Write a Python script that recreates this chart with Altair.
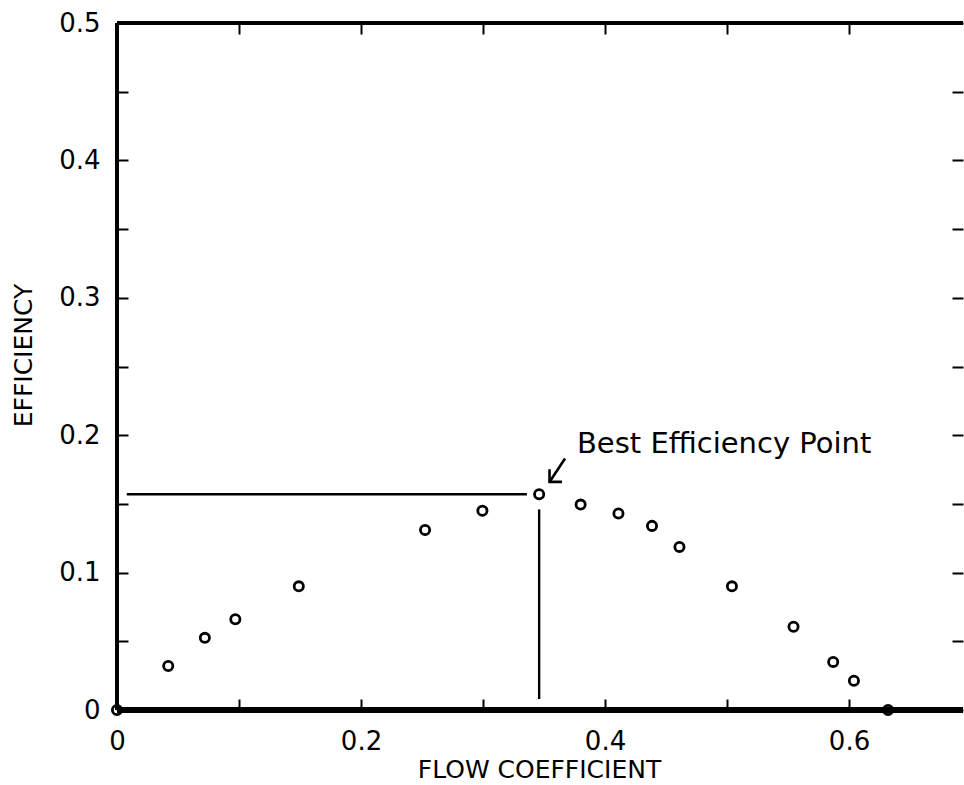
import altair as alt
import pandas as pd

# Measured pump performance: flow coefficient vs. efficiency
flow = [0.0, 0.042, 0.072, 0.097, 0.149, 0.2525, 0.2995, 0.346, 0.380,
        0.411, 0.4385, 0.461, 0.504, 0.5545, 0.587, 0.604, 0.632]
efficiency = [0.0, 0.032, 0.0525, 0.066, 0.090, 0.131, 0.145, 0.157, 0.1495,
              0.143, 0.134, 0.1187, 0.090, 0.0606, 0.035, 0.0213, 0.0]

# Best efficiency point and its guide lines
bep_flow = 0.346
bep_eff = 0.157
guide_x = [0.008, bep_flow]
guide_x2 = [0.336, bep_flow]
guide_y = [bep_eff, 0.146]
guide_y2 = [bep_eff, 0.008]

# Annotation arrow (shaft + open head)
arrow_part = ["shaft", "shaft", "head", "head", "head"]
arrow_order = [0, 1, 0, 1, 2]
arrow_x = [0.3672, 0.3545, 0.3545, 0.3545, 0.3647]
arrow_y = [0.1831, 0.1660, 0.1752, 0.1660, 0.1660]
label_text = ["Best Efficiency Point"]
label_x = [0.377]
label_y = [0.1868]

# Axis ticks
x_ticks = [0.0, 0.1, 0.2, 0.3, 0.4, 0.5, 0.6]
y_ticks = [0.0, 0.05, 0.1, 0.15, 0.2, 0.25, 0.3, 0.35, 0.4, 0.45, 0.5]
x_domain = [0.0, 0.6934]
y_domain = [0.0, 0.5]

FONT = "DejaVu Sans"
TICK = 11

points_df = pd.DataFrame({"flow": flow, "eff": efficiency})
guides_df = pd.DataFrame({"x": guide_x, "x2": guide_x2, "y": guide_y, "y2": guide_y2})
arrow_df = pd.DataFrame({"part": arrow_part, "order": arrow_order,
                         "x": arrow_x, "y": arrow_y})
label_df = pd.DataFrame({"text": label_text, "x": label_x, "y": label_y})

xscale = alt.Scale(domain=x_domain, nice=False, zero=False)
yscale = alt.Scale(domain=y_domain, nice=False, zero=False)

x_label_expr = ("datum.value == 0 ? '0' : "
                "(round(datum.value * 10) % 2 == 0 ? format(datum.value, '.1f') : '')")
y_label_expr = ("datum.value == 0 ? '0' : "
                "(round(datum.value * 100) % 10 == 0 ? format(datum.value, '.1f') : '')")

common_axis = dict(domain=False, grid=False, tickSize=TICK, offset=-TICK,
                   tickColor="black", tickWidth=2, labelFont=FONT, labelFontSize=26,
                   labelColor="black", titleFont=FONT, titleFontSize=25,
                   titleFontWeight="normal", titleColor="black", labelOverlap=False)

x_bottom = alt.Axis(orient="bottom", values=x_ticks, labelExpr=x_label_expr,
                    labelFlush=False, labelPadding=18, labelBaseline="top",
                    title="FLOW COEFFICIENT", titleY=78, titleX=422,
                    titleAlign="center", titleBaseline="alphabetic", **common_axis)
y_left = alt.Axis(orient="left", values=y_ticks, labelExpr=y_label_expr,
                  labelFlush=False, labelPadding=17, labelBaseline="middle",
                  title="EFFICIENCY", titleX=-105, titleY=332, titleAngle=270,
                  titleAlign="center", titleBaseline="middle", **common_axis)
x_top = alt.Axis(orient="top", values=x_ticks, labels=False, title=None, **common_axis)
y_right = alt.Axis(orient="right", values=y_ticks, labels=False, title=None, **common_axis)

points = alt.Chart(points_df).mark_point(
    shape="circle", filled=False, size=85, strokeWidth=2.8, color="black", opacity=1
).encode(
    x=alt.X("flow:Q", scale=xscale, axis=x_bottom),
    y=alt.Y("eff:Q", scale=yscale, axis=y_left),
)

# Frame lines: left, bottom, top
frame_left = alt.Chart(points_df).mark_rule(color="black", strokeWidth=4).encode(
    x=alt.datum(0.0, scale=xscale, axis=x_top)
)
frame_bottom = alt.Chart(points_df).mark_rule(color="black", strokeWidth=4.5).encode(
    y=alt.datum(0.0, scale=yscale, axis=y_right)
)
frame_top = alt.Chart(points_df).mark_rule(color="black", strokeWidth=4).encode(
    y=alt.datum(0.5, scale=yscale, axis=None)
)

guides = alt.Chart(guides_df).mark_rule(color="black", strokeWidth=2.4).encode(
    x=alt.X("x:Q", scale=xscale, axis=None),
    x2="x2:Q",
    y=alt.Y("y:Q", scale=yscale, axis=None),
    y2="y2:Q",
)

arrow = alt.Chart(arrow_df).mark_line(color="black", strokeWidth=2.6).encode(
    x=alt.X("x:Q", scale=xscale, axis=None),
    y=alt.Y("y:Q", scale=yscale, axis=None),
    detail="part:N",
    order="order:Q",
)

label = alt.Chart(label_df).mark_text(
    align="left", baseline="alphabetic", font=FONT, fontSize=29, color="black"
).encode(
    x=alt.X("x:Q", scale=xscale, axis=None),
    y=alt.Y("y:Q", scale=yscale, axis=None),
    text="text:N",
)

chart = alt.layer(
    frame_left, frame_bottom, frame_top, guides, arrow, label, points
).resolve_axis(
    x="independent", y="independent"
).properties(
    width=846,
    height=687,
    autosize=alt.AutoSizeParams(type="none"),
    padding={"left": 117, "top": 23, "right": 1, "bottom": 75},
    background="white",
).configure_view(stroke=None)

chart.save("out.html", embed_options={"renderer": "svg", "actions": False})
